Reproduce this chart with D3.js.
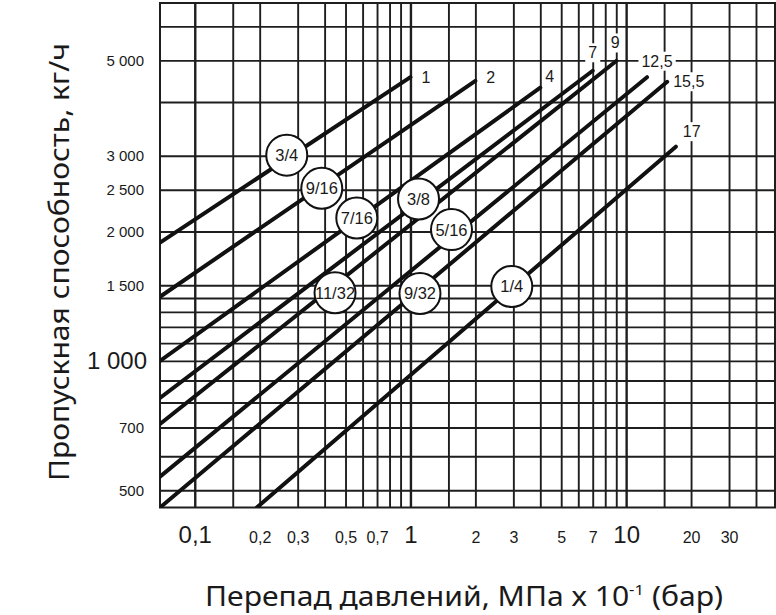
<!DOCTYPE html>
<html>
<head>
<meta charset="utf-8">
<script src="https://cdn.jsdelivr.net/npm/d3@7"></script>
<style>
  html, body { margin: 0; padding: 0; background: #fff; }
  svg { display: block; }
  text { font-family: "Liberation Sans", Arial, sans-serif; fill: #1a1a1a; }
  .title { font-family: "Noto Sans", "DejaVu Sans", sans-serif; }
</style>
</head>
<body>
<svg id="chart" width="776" height="615"></svg>
<script>
// x: pressure drop, bar; y: flow, kg/h (log-log)
const xGrid = [0.1, 0.15, 0.2, 0.3, 0.4, 0.5, 0.6, 0.7, 0.8, 0.9, 1, 1.5, 2, 3, 4, 5, 6, 7, 8, 9, 10, 15, 20, 30, 40];
const xTicksBig = [0.1, 1, 10];
const xTicksSmall = [0.2, 0.3, 0.5, 0.7, 2, 3, 5, 7, 20, 30];
const yGrid = [500, 600, 700, 800, 900, 1000, 1100, 1200, 1300, 1400, 1500, 2000, 2500, 3000, 4000, 5000, 6000];
const yTicksBig = [1000];
const yTicksSmall = [500, 700, 1500, 2000, 2500, 3000, 5000];

// one line per max pressure drop (end label)
const lineNames = ["1", "2", "4", "7", "9", "12,5", "15,5", "17"];
const startDP = [0.069, 0.069, 0.069, 0.069, 0.069, 0.069, 0.069, 0.194];
const startFlow = [1885, 1410, 1000, 820, 713, 538, 456, 456];
const endDP = [1, 2, 4, 7, 9, 12.5, 15.5, 17];
const endFlow = [4570, 4480, 4320, 4730, 4985, 4570, 4460, 3150];

// orifice size markers sitting on the lines
const sizeNames = ["3/4", "9/16", "7/16", "3/8", "11/32", "5/16", "9/32", "1/4"];
const sizeDP = [0.267, 0.388, 0.564, 1.09, 0.447, 1.55, 1.107, 2.95];
const sizeFlow = [3010, 2520, 2150, 2380, 1440, 2020, 1435, 1490];

const plot = { left: 160, right: 775, top: 3, bottom: 507.5 };

const x = d3.scaleLog().domain([0.069, 49]).range([plot.left, plot.right]);
const y = d3.scaleLog().domain([456, 6800]).range([plot.bottom, plot.top]);

const ru = d3.formatLocale({ decimal: ",", thousands: "\u00a0", grouping: [3], currency: ["", ""] });
const fmtY = ru.format(",");
const fmtX = (d) => String(d).replace(".", ",");

const svg = d3.select("#chart");
const w = plot.right - plot.left;
const h = plot.bottom - plot.top;

svg.append("defs").append("clipPath").attr("id", "plot-clip")
  .append("rect")
  .attr("x", plot.left).attr("y", plot.top)
  .attr("width", w).attr("height", h);

// grid
const gridX = svg.append("g")
  .attr("transform", `translate(0,${plot.bottom})`)
  .call(d3.axisBottom(x).tickValues(xGrid).tickSize(-h).tickFormat(""));
const gridY = svg.append("g")
  .attr("transform", `translate(${plot.left},0)`)
  .call(d3.axisLeft(y).tickValues(yGrid).tickSize(-w).tickFormat(""));
[gridX, gridY].forEach((g) => {
  g.select(".domain").remove();
  g.selectAll(".tick line").attr("stroke", "#1e1e1e").attr("stroke-width", 1.9);
});
gridX.selectAll(".tick line")
  .filter((d) => xTicksBig.includes(d))
  .attr("stroke-width", 2.4);

svg.append("rect")
  .attr("x", plot.left).attr("y", plot.top)
  .attr("width", w).attr("height", h)
  .attr("fill", "none").attr("stroke", "#1e1e1e").attr("stroke-width", 2);

// tick labels
function tickLabels(axis, values, fmt, size, pad, at) {
  const g = svg.append("g")
    .attr("transform", at)
    .call(axis.tickValues(values).tickFormat(fmt).tickSize(0).tickPadding(pad));
  g.select(".domain").remove();
  g.selectAll("text")
    .attr("font-family", '"Liberation Sans", Arial, sans-serif')
    .attr("font-size", size)
    .attr("fill", "#1a1a1a");
  return g;
}
tickLabels(d3.axisBottom(x), xTicksBig, fmtX, 24, 18, `translate(0,${plot.bottom})`);
tickLabels(d3.axisBottom(x), xTicksSmall, fmtX, 16, 24, `translate(0,${plot.bottom})`);
tickLabels(d3.axisLeft(y), yTicksBig, fmtY, 24, 13, `translate(${plot.left},0)`);
tickLabels(d3.axisLeft(y), yTicksSmall, fmtY, 15, 16, `translate(${plot.left},0)`);

// flow lines
const lines = lineNames.map((name, i) => ({
  name,
  pts: [[startDP[i], startFlow[i]], [endDP[i], endFlow[i]]],
  size: sizeNames[i],
  marker: [sizeDP[i], sizeFlow[i]]
}));

const lineGen = d3.line().x((d) => x(d[0])).y((d) => y(d[1]));

svg.append("g")
  .attr("clip-path", "url(#plot-clip)")
  .selectAll("path")
  .data(lines)
  .join("path")
  .attr("d", (d) => lineGen(d.pts))
  .attr("fill", "none")
  .attr("stroke", "#111")
  .attr("stroke-width", 4)
  .attr("stroke-linecap", "round");

// end labels (max pressure drop)
const labelOffset = {
  "1": [11, 0, "start"],
  "2": [11, -3, "start"],
  "4": [5, -11, "start"],
  "7": [0, -18, "middle"],
  "9": [-1, -18, "middle"],
  "12,5": [10, -16, "middle"],
  "15,5": [6, 0, "start"],
  "17": [7, -15, "start"]
};

const endLabels = svg.append("g")
  .selectAll("g")
  .data(lines)
  .join("g")
  .attr("transform", (d) => {
    const e = d.pts[1];
    const o = labelOffset[d.name];
    return `translate(${x(e[0]) + o[0]},${y(e[1]) + o[1]})`;
  });

endLabels.append("text")
  .attr("text-anchor", (d) => labelOffset[d.name][2])
  .attr("dominant-baseline", "central")
  .attr("font-size", 16)
  .text((d) => d.name);

endLabels.each(function () {
  const g = d3.select(this);
  const bb = g.select("text").node().getBBox();
  g.insert("rect", "text")
    .attr("x", bb.x - 3).attr("y", bb.y - 1)
    .attr("width", bb.width + 6).attr("height", bb.height + 2)
    .attr("fill", "#fff");
});

// size markers
const markers = svg.append("g")
  .selectAll("g")
  .data(lines)
  .join("g")
  .attr("transform", (d) => `translate(${x(d.marker[0])},${y(d.marker[1])})`);

markers.append("circle")
  .attr("r", 20.5)
  .attr("fill", "#fff")
  .attr("stroke", "#111")
  .attr("stroke-width", 2);

markers.append("text")
  .attr("text-anchor", "middle")
  .attr("dominant-baseline", "central")
  .attr("font-size", 16.5)
  .text((d) => d.size);

// axis titles
const xTitle = svg.append("text")
  .attr("class", "title")
  .attr("x", 205)
  .attr("y", 606)
  .attr("font-size", 27)
  .attr("textLength", 518)
  .attr("lengthAdjust", "spacingAndGlyphs");
xTitle.append("tspan").text("Перепад давлений, МПа х 10");
xTitle.append("tspan").attr("font-size", 15).attr("dy", -11).text("-1");
xTitle.append("tspan").attr("dy", 11).text(" (бар)");

svg.append("text")
  .attr("class", "title")
  .attr("transform", "translate(69,262) rotate(-90)")
  .attr("text-anchor", "middle")
  .attr("font-size", 28)
  .attr("textLength", 438)
  .attr("lengthAdjust", "spacingAndGlyphs")
  .text("Пропускная способность, кг/ч");
</script>
</body>
</html>
